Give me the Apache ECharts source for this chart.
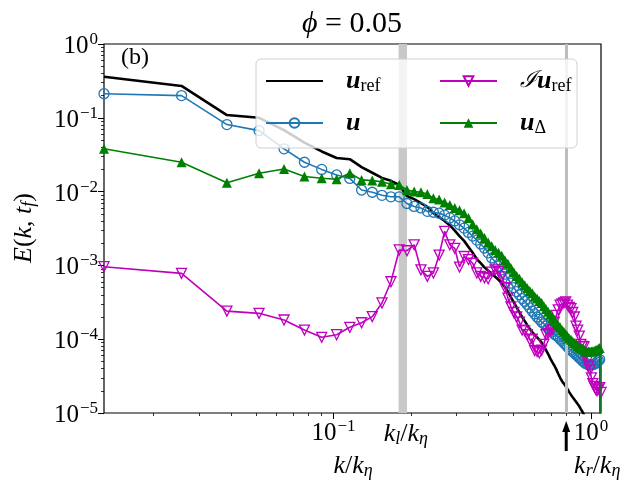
<!DOCTYPE html>
<html>
<head>
<meta charset="utf-8">
<script src="https://cdn.jsdelivr.net/npm/echarts@6/dist/echarts.min.js"></script>
<style>
  html, body { margin: 0; padding: 0; background: #fff; }
  #main { width: 636px; height: 496px; }
</style>
</head>
<body>
<div id="main"></div>
<script>
// lowest resolved wavenumber k/k_eta; spectrum shells are k = n * K0
const K0 = 0.01286;
const shells = Array.from({ length: 85 }, (_, i) => i + 1);

// E(k, t_f), one value per shell n = 1..85
const eRef = [
  3.6e-1, 2.7e-1, 1.09e-1, 1.0e-1, 6.8e-2, 4.6e-2, 3.5e-2, 2.85e-2, 2.75e-2, 2.15e-2,
  1.8e-2, 1.53e-2, 1.4e-2, 1.23e-2, 8.7e-3, 7.9e-3, 7.0e-3, 6.2e-3, 5.1e-3, 4.5e-3,
  4.0e-3, 3.5e-3, 2.95e-3, 2.5e-3, 2.15e-3, 1.78e-3, 1.48e-3, 1.22e-3, 1.07e-3, 9.4e-4,
  8.5e-4, 7.7e-4, 7.0e-4, 6.4e-4, 5.8e-4, 5.1e-4, 4.4e-4, 3.7e-4, 3.15e-4, 2.7e-4,
  2.3e-4, 2.0e-4, 1.76e-4, 1.55e-4, 1.38e-4, 1.25e-4, 1.14e-4, 1.06e-4, 9.8e-5, 9.0e-5,
  8.0e-5, 7.1e-5, 6.3e-5, 5.5e-5, 4.9e-5, 4.4e-5, 3.9e-5, 3.4e-5, 3.0e-5, 2.7e-5,
  2.5e-5, 2.3e-5, 2.1e-5, 1.92e-5, 1.76e-5, 1.63e-5, 1.52e-5, 1.42e-5, 1.32e-5, 1.23e-5,
  1.13e-5, 1.04e-5, 9.5e-6, 8.5e-6, 7.6e-6, 6.8e-6, 6.0e-6, 5.3e-6, 4.7e-6, 4.1e-6,
  3.6e-6, 3.2e-6, 2.8e-6, 2.4e-6, 1e-8
];
const eU = [
  2.12e-1, 2.0e-1, 8.1e-2, 6.7e-2, 3.8e-2, 2.5e-2, 2.0e-2, 1.68e-2, 1.51e-2, 1.05e-2,
  9.8e-3, 8.9e-3, 8.5e-3, 8.5e-3, 6.9e-3, 6.3e-3, 6.0e-3, 5.4e-3, 5.25e-3, 5.1e-3,
  4.8e-3, 4.4e-3, 4.0e-3, 3.55e-3, 3.2e-3, 2.8e-3, 2.5e-3, 2.2e-3, 1.95e-3, 1.72e-3,
  1.48e-3, 1.26e-3, 1.12e-3, 9.8e-4, 8.7e-4, 7.6e-4, 6.6e-4, 5.75e-4, 5.0e-4, 4.4e-4,
  4.0e-4, 3.55e-4, 3.25e-4, 2.95e-4, 2.65e-4, 2.4e-4, 2.2e-4, 2.0e-4, 1.86e-4, 1.71e-4,
  1.62e-4, 1.51e-4, 1.41e-4, 1.32e-4, 1.26e-4, 1.17e-4, 1.12e-4, 1.07e-4, 1.0e-4, 9.5e-5,
  8.9e-5, 8.5e-5, 7.9e-5, 7.4e-5, 7.1e-5, 6.8e-5, 6.5e-5, 6.2e-5, 5.9e-5, 5.6e-5,
  5.4e-5, 5.1e-5, 4.9e-5, 4.7e-5, 4.6e-5, 4.5e-5, 4.5e-5, 4.5e-5, 4.5e-5, 4.6e-5,
  4.7e-5, 4.9e-5, 5.1e-5, 5.3e-5, 1e-8
];
const eIRef = [
  9.6e-4, 7.8e-4, 2.4e-4, 2.24e-4, 1.82e-4, 1.33e-4, 1.06e-4, 1.15e-4, 1.45e-4, 1.67e-4,
  2.02e-4, 3.1e-4, 6.0e-4, 1.62e-3, 1.58e-3, 1.9e-3, 8.7e-4, 7.1e-4, 7.9e-4, 1.38e-3,
  2.9e-3, 1.9e-3, 1.7e-3, 9.5e-4, 1.32e-3, 1.2e-3, 1.07e-3, 7.9e-4, 7.1e-4, 6.8e-4,
  6.6e-4, 8.1e-4, 8.7e-4, 8.2e-4, 7.0e-4, 5.0e-4, 3.6e-4, 2.75e-4, 2.3e-4, 2.0e-4,
  1.7e-4, 1.33e-4, 1.3e-4, 1.15e-4, 9.8e-5, 1.0e-4, 7.0e-5, 6.8e-5, 6.5e-5, 7.1e-5,
  8.5e-5, 1.15e-4, 1.2e-4, 1.3e-4, 1.35e-4, 1.7e-4, 2.1e-4, 2.5e-4, 2.9e-4, 3.0e-4,
  3.1e-4, 3.2e-4, 2.9e-4, 2.7e-4, 2.6e-4, 2.3e-4, 2.0e-4, 1.5e-4, 1.33e-4, 1.1e-4,
  8.5e-5, 8.0e-5, 7.9e-5, 6.0e-5, 5.0e-5, 4.3e-5, 3.8e-5, 3.0e-5, 2.5e-5, 2.3e-5,
  2.1e-5, 2.0e-5, 2.1e-5, 2.2e-5, 1.9e-5
];
const eDelta = [
  3.8e-2, 2.5e-2, 1.32e-2, 1.77e-2, 2.02e-2, 1.6e-2, 1.52e-2, 1.47e-2, 1.77e-2, 1.44e-2,
  1.41e-2, 1.36e-2, 1.26e-2, 1.23e-2, 1.05e-2, 1.0e-2, 9.8e-3, 9.3e-3, 8.1e-3, 7.8e-3,
  7.1e-3, 6.6e-3, 6.0e-3, 5.6e-3, 5.1e-3, 4.4e-3, 3.6e-3, 3.1e-3, 2.7e-3, 2.35e-3,
  2.05e-3, 1.82e-3, 1.62e-3, 1.48e-3, 1.35e-3, 1.17e-3, 1.05e-3, 9.2e-4, 8.1e-4, 7.2e-4,
  6.6e-4, 5.9e-4, 5.4e-4, 4.9e-4, 4.5e-4, 4.2e-4, 3.8e-4, 3.55e-4, 3.3e-4, 3.1e-4,
  2.8e-4, 2.57e-4, 2.35e-4, 2.15e-4, 1.95e-4, 1.82e-4, 1.66e-4, 1.55e-4, 1.45e-4, 1.33e-4,
  1.26e-4, 1.17e-4, 1.1e-4, 1.02e-4, 9.8e-5, 9.3e-5, 8.9e-5, 8.5e-5, 8.1e-5, 7.8e-5,
  7.6e-5, 7.4e-5, 7.1e-5, 6.9e-5, 6.8e-5, 6.8e-5, 6.8e-5, 6.8e-5, 6.85e-5, 6.9e-5,
  7.1e-5, 7.2e-5, 7.4e-5, 7.6e-5, 1e-8
];

// marked wavenumbers k_l (shaded band) and k_r (line + arrow)
const klBand = [0.179, 0.193];
const kr = 0.801;

const xMajor = [0.1, 1];
const xMinor = [0.02, 0.03, 0.04, 0.05, 0.06, 0.07, 0.08, 0.09, 0.2, 0.3, 0.4, 0.5, 0.6, 0.7, 0.8, 0.9];
const yMajor = [1e-5, 1e-4, 1e-3, 1e-2, 1e-1, 1];
const yMinor = [];
[1e-5, 1e-4, 1e-3, 1e-2, 1e-1].forEach((d) => { for (let m = 2; m <= 9; m++) yMinor.push(+(m * d).toPrecision(3)); });

const SERIF = "'Liberation Serif', 'DejaVu Serif', serif";

const pts = (vals) => vals.map((v, i) => [shells[i] * K0, v]);
const pow10 = (v) => {
  const e = Math.round(Math.log10(v));
  return '{b|10}{e|' + String(e).replace('-', '\u2212') + '}';
};
const tickRich = {
  b: { fontFamily: SERIF, fontSize: 25, color: '#000', verticalAlign: 'bottom', lineHeight: 30 },
  e: { fontFamily: SERIF, fontSize: 17, color: '#000', verticalAlign: 'bottom', lineHeight: 30, padding: [0, 0, 11, 1] },
};
const mathRich = {
  i: { fontFamily: SERIF, fontStyle: 'italic', fontSize: 26, color: '#000' },
  r: { fontFamily: SERIF, fontSize: 26, color: '#000' },
  s: { fontFamily: SERIF, fontStyle: 'italic', fontSize: 18, color: '#000', padding: [10, 0, 0, 0] },
};

const legendNames = {
  uref: '{b|u}{s|ref}',
  Iuref: '{c|\u2110}{b|u}{s|ref}',
  u: '{b|u}',
  udelta: '{b|u}{s|\u0394}',
};
const legendText = {
  width: 60, lineHeight: 32, padding: [0, 0, 0, 18],
  rich: {
    b: { fontFamily: SERIF, fontStyle: 'italic', fontWeight: 'bold', fontSize: 26, color: '#000' },
    s: { fontFamily: SERIF, fontSize: 18, color: '#000', padding: [10, 0, 0, 0] },
    c: { fontFamily: "'DejaVu Serif', serif", fontStyle: 'italic', fontSize: 23, color: '#000' },
  },
};
const legendBase = {
  orient: 'vertical', z: 10,
  itemWidth: 57, itemHeight: 12, itemGap: 10,
  formatter: (name) => legendNames[name],
  textStyle: legendText,
};

const chart = echarts.init(document.getElementById('main'));

const option = {
  animation: false,
  backgroundColor: '#fff',
  grid: { left: 104, right: 35, top: 44, bottom: 83, show: true, borderColor: '#000', borderWidth: 1.2, backgroundColor: 'transparent' },
  xAxis: [
    {
      type: 'log', min: K0, max: 85 * K0,
      axisLine: { show: false }, splitLine: { show: false },
      axisTick: { customValues: xMajor, length: 6, lineStyle: { color: '#000', width: 1 } },
      axisLabel: { customValues: xMajor, formatter: pow10, rich: tickRich, margin: 3 },
    },
    {
      type: 'log', min: K0, max: 85 * K0, position: 'bottom',
      axisLine: { show: false }, splitLine: { show: false },
      axisTick: { customValues: xMinor, length: 3, lineStyle: { color: '#000', width: 0.8 } },
      axisLabel: { show: false },
    },
  ],
  yAxis: [
    {
      type: 'log', min: 1e-5, max: 1,
      axisLine: { show: false }, splitLine: { show: false },
      axisTick: { customValues: yMajor, length: 6, lineStyle: { color: '#000', width: 1 } },
      axisLabel: { customValues: yMajor, formatter: pow10, rich: tickRich, margin: 6 },
    },
    {
      type: 'log', min: 1e-5, max: 1, position: 'left',
      axisLine: { show: false }, splitLine: { show: false },
      axisTick: { customValues: yMinor, length: 3, lineStyle: { color: '#000', width: 0.8 } },
      axisLabel: { show: false },
    },
  ],
  legend: [
    Object.assign({}, legendBase, {
      data: ['uref', 'u'],
      left: 256, top: 59,
      padding: [6, 171, 9, 9],
      backgroundColor: 'rgba(255,255,255,0.8)', borderColor: '#d0d0d0', borderWidth: 1, borderRadius: 5,
    }),
    Object.assign({}, legendBase, {
      data: ['Iuref', 'udelta'],
      left: 439, top: 65, z: 11,
      padding: 0,
    }),
  ],
  series: [
    {
      name: 'bands', type: 'line', data: [], z: 1, silent: true,
      markArea: { silent: true, itemStyle: { color: '#c8c8c8' }, data: [[{ xAxis: klBand[0] }, { xAxis: klBand[1] }]] },
      markLine: {
        silent: true, symbol: 'none', label: { show: false },
        lineStyle: { color: '#bdbdbd', width: 3, type: 'solid' },
        data: [{ xAxis: kr }],
      },
    },
    {
      name: 'uref', type: 'line', data: pts(eRef), z: 3,
      showSymbol: false, symbol: 'none',
      lineStyle: { color: '#000', width: 2.6 }, itemStyle: { color: 'rgba(0,0,0,0)' },
    },
    {
      name: 'u', type: 'line', data: pts(eU), z: 4,
      symbol: 'circle', symbolSize: 10,
      lineStyle: { color: '#1f77b4', width: 1.6 },
      itemStyle: { color: 'rgba(255,255,255,0)', borderColor: '#1f77b4', borderWidth: 1.3 },
    },
    {
      name: 'Iuref', type: 'line', data: pts(eIRef), z: 5,
      symbol: 'triangle', symbolRotate: 180, symbolSize: 10,
      lineStyle: { color: '#bf00bf', width: 1.6 },
      itemStyle: { color: 'rgba(255,255,255,0)', borderColor: '#bf00bf', borderWidth: 1.3 },
    },
    {
      name: 'udelta', type: 'line', data: pts(eDelta), z: 6,
      symbol: 'triangle', symbolSize: 10,
      lineStyle: { color: '#008000', width: 1.6 },
      itemStyle: { color: '#008000' },
    },
  ],
};
chart.setOption(option);

// annotations placed from the axis scales
const xr = chart.convertToPixel({ xAxisIndex: 0 }, kr);
const xl = chart.convertToPixel({ xAxisIndex: 0 }, Math.sqrt(klBand[0] * klBand[1]));
const yBottom = chart.convertToPixel({ yAxisIndex: 0 }, 1e-5);

const txt = (x, y, text, rich, extra) => Object.assign({
  type: 'text', x, y, z: 100,
  style: {
    text, rich, fontFamily: SERIF, fontSize: 26,
    align: 'center', verticalAlign: 'middle', textAlign: 'center', textVerticalAlign: 'middle',
  },
}, extra || {});

chart.setOption({
  graphic: [
    txt(352, 24, '{i|\u03d5}{r| = 0.05}', {
      i: { fontFamily: SERIF, fontStyle: 'italic', fontSize: 30, color: '#000' },
      r: { fontFamily: SERIF, fontSize: 30, color: '#000' },
    }),
    txt(135, 58, '{r|(b)}', { r: { fontFamily: SERIF, fontSize: 24, color: '#000' } }),
    txt(24, 228, '{i|E}{r|(}{i|k}{r|, }{i|t}{s|f}{r|)}', mathRich, { rotation: Math.PI / 2 }),
    txt(353, 466, '{i|k}{r|/}{i|k}{s|\u03b7}', mathRich),
    txt(xl + 3, 434, '{i|k}{s|l}{r|/}{i|k}{s|\u03b7}', mathRich),
    txt(xr + 31, 466, '{i|k}{s|r}{r|/}{i|k}{s|\u03b7}', mathRich),
    {
      type: 'line', z: 100,
      shape: { x1: xr, y1: yBottom + 16, x2: xr, y2: yBottom + 38 },
      style: { stroke: '#000', lineWidth: 3 },
    },
    {
      type: 'polygon', z: 100,
      shape: { points: [[xr, yBottom + 8], [xr - 4, yBottom + 19], [xr + 4, yBottom + 19]] },
      style: { fill: '#000' },
    },
  ],
});
</script>
</body>
</html>
